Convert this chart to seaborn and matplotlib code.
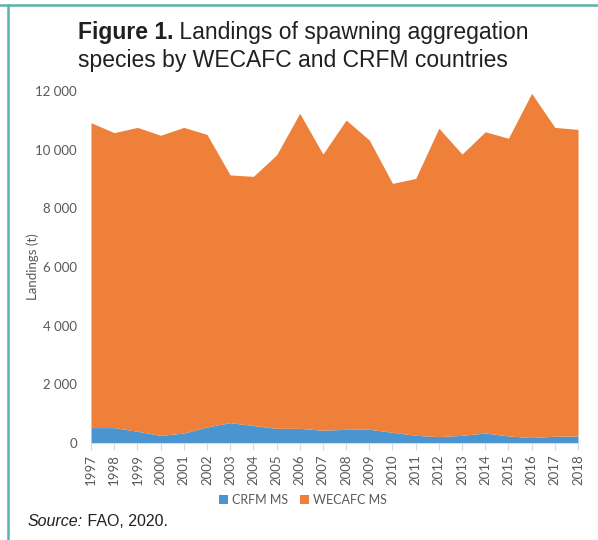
#!/usr/bin/env python3
"""
Landings of spawning aggregation species by WECAFC and CRFM countries
(stacked area, 1997-2018).
"""

import pandas as pd
import matplotlib.pyplot as plt
import seaborn as sns
from matplotlib.patches import Patch
from matplotlib.lines import Line2D

sns.set_theme(style="white")

# Data (tonnes)
years = list(range(1997, 2019))
crfm_ms = [525, 525, 400, 260, 340, 545, 695, 595, 500, 500, 435,
           467, 467, 365, 262, 218, 262, 340, 240, 185, 230, 240]
total = [10920, 10580, 10760, 10490, 10760, 10520, 9140, 9090, 9820, 11240, 9850,
         11010, 10330, 8850, 9020, 10730, 9850, 10610, 10390, 11920, 10760, 10690]
wecafc_ms = [t - c for t, c in zip(total, crfm_ms)]

series_names = ['CRFM MS', 'WECAFC MS']
colors = ['#4a95d0', '#ee8039']
y_ticks = [0, 2000, 4000, 6000, 8000, 10000, 12000]

df = pd.DataFrame({'year': years, 'CRFM MS': crfm_ms, 'WECAFC MS': wecafc_ms})

tick_font = ['Lato', 'DejaVu Sans']
tick_color = '#595959'
title_font = ['Liberation Sans', 'DejaVu Sans']
text_color = '#231f20'

fig = plt.figure(figsize=(5.98, 5.40), dpi=100)
ax = fig.add_axes([91 / 598, 1 - 443 / 540, (578 - 91) / 598, (443 - 91) / 540])

ax.stackplot(df['year'], df['CRFM MS'], df['WECAFC MS'],
             colors=colors, linewidth=0)

ax.set_xlim(1997, 2018)
ax.set_ylim(0, 12000)
ax.set_xticks(years)
ax.set_xticklabels([str(y) for y in years], rotation=90,
                   family=tick_font, fontsize=9.5, color=tick_color)
ax.set_yticks(y_ticks)
ax.set_yticklabels([f'{v:,}'.replace(',', ' ') for v in y_ticks],
                   family=tick_font, fontsize=9.5, color=tick_color)
ax.tick_params(axis='x', length=5, width=0.8, color='#d9d9d9', pad=3, bottom=True)
ax.tick_params(axis='y', length=0, pad=10)

for side in ['top', 'right', 'left']:
    ax.spines[side].set_visible(False)
ax.spines['bottom'].set_color('#d9d9d9')
ax.spines['bottom'].set_linewidth(0.8)

ax.set_ylabel('Landings (t)', family=tick_font, fontsize=9.5, color=tick_color)
ax.yaxis.set_label_coords((39 - 91) / 487, 0.5)
ax.grid(False)

# Legend
handles = [Patch(facecolor=c, edgecolor='none') for c in colors]
leg = fig.legend(handles, series_names, loc='center', bbox_to_anchor=(303 / 598, 1 - 500 / 540),
                 ncol=2, frameon=False, handlelength=0.7, handleheight=0.7,
                 handletextpad=0.3, columnspacing=1.0,
                 prop={'family': tick_font, 'size': 9})
for txt in leg.get_texts():
    txt.set_color(tick_color)


def text_after(prev, s, **kw):
    """Place a text right after another one on the same line."""
    fig.canvas.draw()
    bb = prev.get_window_extent().transformed(fig.transFigure.inverted())
    x0, y0 = prev.get_position()
    return fig.text(bb.x1, y0, s, **kw)


# Title
t1 = fig.text(78 / 598, 1 - 33 / 540, 'Figure 1.', family=title_font, fontsize=16.5,
              fontweight='bold', va='center', color=text_color)
text_after(t1, ' Landings of spawning aggregation', family=title_font,
           fontsize=16.5, va='center', color=text_color)
fig.text(78 / 598, 1 - 60 / 540, 'species by WECAFC and CRFM countries', family=title_font,
         fontsize=16.5, va='center', color=text_color)

# Source note
s1 = fig.text(28 / 598, 1 - 521 / 540, 'Source:', family=title_font, fontsize=11.5,
              style='italic', va='center', color=text_color)
text_after(s1, ' FAO, 2020.', family=title_font, fontsize=11.5,
           va='center', color=text_color)

# Teal frame lines on the left and top
frame_color = '#5ab3ab'
fig.add_artist(Line2D([0, 1], [1 - 4.5 / 540, 1 - 4.5 / 540], transform=fig.transFigure,
                      color=frame_color, linewidth=1.8))
fig.add_artist(Line2D([7.5 / 598, 7.5 / 598], [0, 1 - 4.5 / 540], transform=fig.transFigure,
                      color=frame_color, linewidth=1.8))

fig.savefig('out.png', dpi=100)
plt.close(fig)
